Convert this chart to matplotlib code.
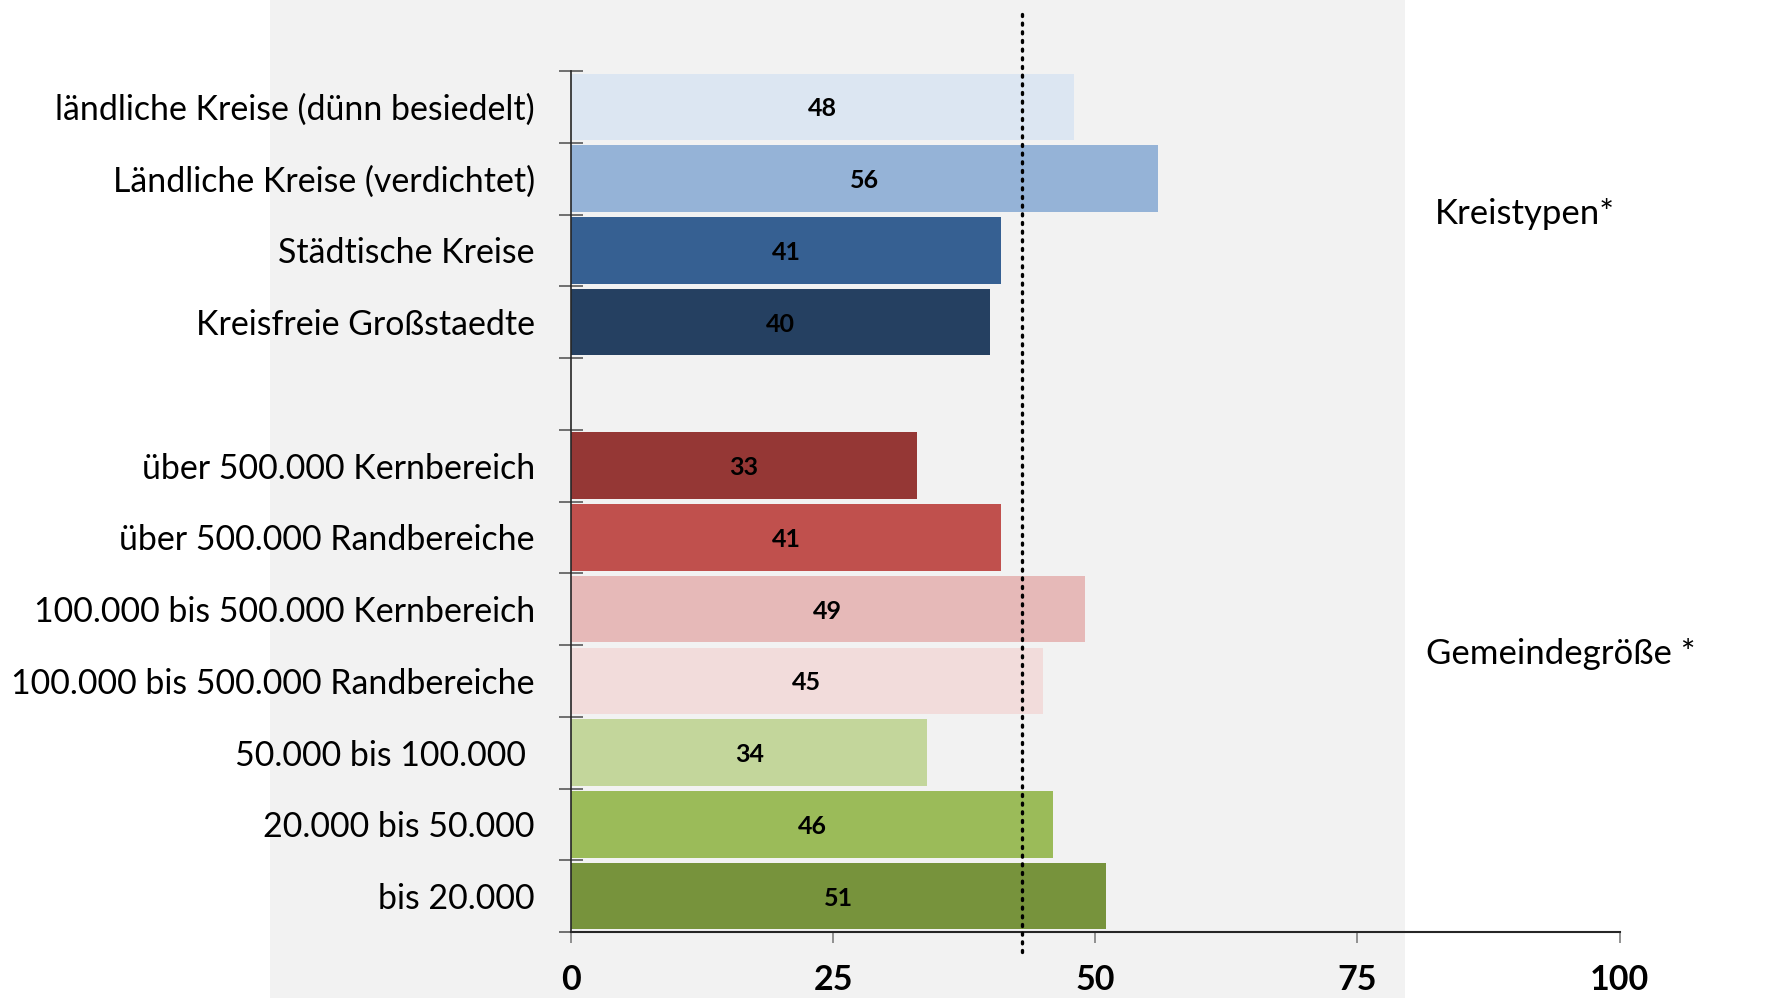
import matplotlib
matplotlib.use("Agg")
import matplotlib.pyplot as plt
import matplotlib.patches as mpatches
import numpy as np

# data (top to bottom)
labels_kreis = [
    "ländliche Kreise (dünn besiedelt)",
    "Ländliche Kreise (verdichtet)",
    "Städtische Kreise",
    "Kreisfreie Großstaedte",
]
values_kreis = [48, 56, 41, 40]
colors_kreis = ["#DCE6F2", "#95B3D7", "#366092", "#254061"]

labels_gem = [
    "über 500.000 Kernbereich",
    "über 500.000 Randbereiche",
    "100.000 bis 500.000 Kernbereich",
    "100.000 bis 500.000 Randbereiche",
    "50.000 bis 100.000 ",
    "20.000 bis 50.000",
    "bis 20.000",
]
values_gem = [33, 41, 49, 45, 34, 46, 51]
colors_gem = ["#953735", "#C0504D", "#E6B9B8", "#F2DCDB",
              "#C3D69B", "#9BBB59", "#77933C"]

mean_value = 43
x_ticks = [0, 25, 50, 75, 100]
group_titles = ["Kreistypen*", "Gemeindegröße *"]

FONT = "Lato"

fig = plt.figure(figsize=(17.67, 9.98), dpi=100, facecolor="white")

# faint background picture area
fig.patches.append(mpatches.Rectangle((270 / 1767, 0), (1405 - 270) / 1767, 1,
                                      transform=fig.transFigure,
                                      facecolor="#f2f2f2", edgecolor="none",
                                      zorder=-10))

ax = fig.add_axes([571 / 1767, 1 - 932 / 998, 1048.5 / 1767, 861 / 998])
ax.set_facecolor("none")

n_slots = len(values_kreis) + 1 + len(values_gem)
ypos_kreis = [n_slots - 1 - i for i in range(len(values_kreis))]
ypos_gem = [len(values_gem) - 1 - i for i in range(len(values_gem))]

ypos = ypos_kreis + ypos_gem
values = values_kreis + values_gem
colors = colors_kreis + colors_gem
labels = labels_kreis + labels_gem

ax.barh(ypos, values, height=0.93, color=colors, edgecolor="none", zorder=2)
for y, v in zip(ypos, values):
    ax.text(v / 2, y, str(v), ha="center", va="center_baseline", fontsize=18,
            fontweight="bold", family=FONT, color="black", zorder=4)

ax.axvline(mean_value, ymin=-0.023, ymax=1.07, clip_on=False, color="black",
           linewidth=2.4, linestyle=(0, (0.6, 2.0)), dash_capstyle="round", zorder=3)

ax.set_xlim(0, 100)
ax.set_ylim(-0.5, n_slots - 0.5)

ax.set_yticks(ypos)
ax.set_yticklabels(labels, fontsize=24.4, family=FONT)
ax.tick_params(axis="y", which="major", length=0, pad=26)
ax.set_yticks(np.arange(-0.5, n_slots), minor=True)
ax.tick_params(axis="y", which="minor", direction="inout", length=17,
               width=1.2, color="#595959")

ax.set_xticks(x_ticks)
ax.set_xticklabels([str(t) for t in x_ticks], fontsize=24.5, fontweight="bold",
                   family=FONT)
ax.tick_params(axis="x", direction="out", length=8, width=1.2,
               color="#7f7f7f", pad=15)

for side in ["top", "right"]:
    ax.spines[side].set_visible(False)
ax.spines["left"].set_color("#262626")
ax.spines["bottom"].set_color("#262626")
ax.spines["left"].set_linewidth(1.2)
ax.spines["bottom"].set_linewidth(1.5)

ax.text(82.4, n_slots - 2.5, group_titles[0], fontsize=25, family=FONT,
        ha="left", va="center")
ax.text(81.5, 3.37, group_titles[1], fontsize=25, family=FONT,
        ha="left", va="center")

fig.savefig("out.png", dpi=100, facecolor="white")
